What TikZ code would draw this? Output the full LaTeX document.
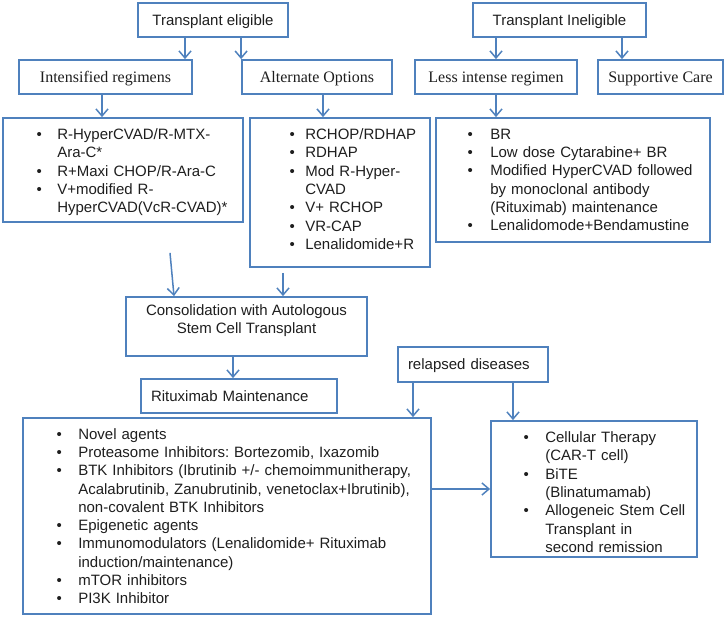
\documentclass[tikz,border=0pt]{standalone}
\usepackage{fontspec}
\setmainfont{Liberation Serif}
\setsansfont{Liberation Sans}
\usetikzlibrary{arrows.meta,calc}
\definecolor{bblue}{RGB}{79,129,189}
\definecolor{ink}{RGB}{30,30,30}
\newlength\labw
\newcommand\bitem[1]{\par\hangindent=\labw\hangafter=1\noindent\makebox[\labw][l]{\textbullet}#1}
\frenchspacing
\begin{document}
\begin{tikzpicture}[x=1pt,y=-1pt,
 box/.style={draw=bblue,line width=1.8pt,inner sep=0pt,text=ink},
 sanslab/.style={font=\sffamily\fontsize{15}{18.3}\selectfont,text height=10.7pt,text depth=0pt},
 serlab/.style={font=\rmfamily\fontsize{16}{19}\selectfont,text height=10.6pt,text depth=0pt},
 listtxt/.style={anchor=north west,inner sep=0pt,text=ink,text width=#1,font=\sffamily\fontsize{15}{18.3}\selectfont\setlength\parindent{0pt}\frenchspacing},
 arr/.style={draw=bblue,line width=1.5pt,-{Straight Barb[length=7pt,width=12pt]}}]
\useasboundingbox (0,0) rectangle (726,618);

% top level
\node[box,sanslab,minimum width=150pt,minimum height=34pt] (TE) at (213,20) {Transplant eligible};
\node[box,sanslab,minimum width=173pt,minimum height=34pt] (TI) at (559.5,20) {Transplant Ineligible};
% second level
\node[box,serlab,minimum width=173pt,minimum height=34pt] (IR) at (105.5,77) {Intensified regimens};
\node[box,serlab,minimum width=150pt,minimum height=34pt] (AO) at (317,77) {Alternate Options};
\node[box,serlab,minimum width=162pt,minimum height=34pt] (LI) at (496,77) {Less intense regimen};
\node[box,serlab,minimum width=125pt,minimum height=34pt] (SC) at (660.5,77) {Supportive Care};
% list boxes
\node[box,minimum width=240pt,minimum height=104pt] (IL) at (123,170) {};
\node[box,minimum width=180pt,minimum height=149pt] (AL) at (340,192.5) {};
\node[box,minimum width=274pt,minimum height=124pt] (LL) at (573,180) {};
\node[box,minimum width=408pt,minimum height=196pt] (BB) at (227,516) {};
\node[box,minimum width=206pt,minimum height=136pt] (RB) at (594,489) {};
% lower boxes
\node[box,font=\sffamily\fontsize{15}{18.3}\selectfont,align=center,minimum width=241pt,minimum height=59pt] (CO) at (246.5,326.5) {Consolidation with Autologous\\Stem Cell Transplant\\[-3pt]};
\node[box,sanslab,text width=176pt,align=left,minimum width=196pt,minimum height=34pt] (RM) at (239,396) {Rituximab Maintenance};
\node[box,sanslab,text width=130pt,align=left,minimum width=150pt,minimum height=35pt] (RD) at (473,364.5) {relapsed diseases};

% list texts
\node[listtxt=200pt] (ILt) at ($(IL.north west)+(34.4,4)$) {\setlength\labw{20.6pt}%
\bitem{R-HyperCVAD/R-MTX-\newline Ara-C*}
\bitem{R+Maxi CHOP/R-Ara-C}
\bitem{V+modified R-\newline HyperCVAD(VcR-CVAD)*}\par};
\node[listtxt=150pt] (ALt) at ($(AL.north west)+(40.4,4)$) {\setlength\labw{15.6pt}%
\bitem{RCHOP/RDHAP}
\bitem{RDHAP}
\bitem{Mod R-Hyper-\newline CVAD}
\bitem{V+ RCHOP}
\bitem{VR-CAP}
\bitem{Lenalidomide+R}\par};
\node[listtxt=240pt] (LLt) at ($(LL.north west)+(32.4,3.5)$) {\setlength\labw{22.6pt}%
\bitem{BR}
\bitem{Low dose Cytarabine+ BR}
\bitem{Modified HyperCVAD followed\newline by monoclonal antibody\newline (Rituximab) maintenance}
\bitem{Lenalidomode+Bendamustine}\par};
\node[listtxt=370pt] (BBt) at ($(BB.north west)+(34.4,3.5)$) {\setlength\labw{21.6pt}%
\bitem{Novel agents}
\bitem{Proteasome Inhibitors: Bortezomib, Ixazomib}
\bitem{BTK Inhibitors (Ibrutinib +/- chemoimmunitherapy,\newline Acalabrutinib, Zanubrutinib, venetoclax+Ibrutinib),\newline non-covalent BTK Inhibitors}
\bitem{Epigenetic agents}
\bitem{Immunomodulators (Lenalidomide+ Rituximab\newline induction/maintenance)}
\bitem{mTOR inhibitors}
\bitem{PI3K Inhibitor}\par};
\node[listtxt=175pt] (RBt) at ($(RB.north west)+(33.4,4)$) {\setlength\labw{21.6pt}%
\bitem{Cellular Therapy\newline (CAR-T cell)}
\bitem{BiTE\newline (Blinatumamab)}
\bitem{Allogeneic Stem Cell\newline Transplant in\newline second remission}\par};

% connectors
\draw[arr] ([xshift=-28pt]TE.south) coordinate (a1) -- (a1 |- IR.north);
\draw[arr] (TE.south -| AO.north west) -- (AO.north west);
\draw[arr] (TI.south -| LI.north) -- (LI.north);
\draw[arr] ([xshift=62.5pt]TI.south) coordinate (a4) -- (a4 |- SC.north);
\draw[arr] ([xshift=-3.5pt]IR.south) coordinate (a5) -- (a5 |- IL.north);
\draw[arr] ([xshift=6pt]AO.south) coordinate (a6) -- (a6 |- AL.north);
\draw[arr] (LI.south) -- (LI.south |- LL.north);
\draw[arr] ([xshift=47pt,yshift=-30pt]IL.south) -- ([xshift=-72.5pt]CO.north);
\draw[arr] ([xshift=-57pt,yshift=-5pt]AL.south) coordinate (a9) -- (a9 |- CO.north);
\draw[arr] ([xshift=-13.5pt]CO.south) coordinate (a10) -- (a10 |- RM.north);
\draw[arr] ([xshift=-60pt]RD.south) coordinate (a11) -- (a11 |- BB.north);
\draw[arr] ([xshift=40pt]RD.south) coordinate (a12) -- (a12 |- RB.north);
\draw[arr] (BB.east |- RB.west) -- (RB.west);
\end{tikzpicture}
\end{document}
